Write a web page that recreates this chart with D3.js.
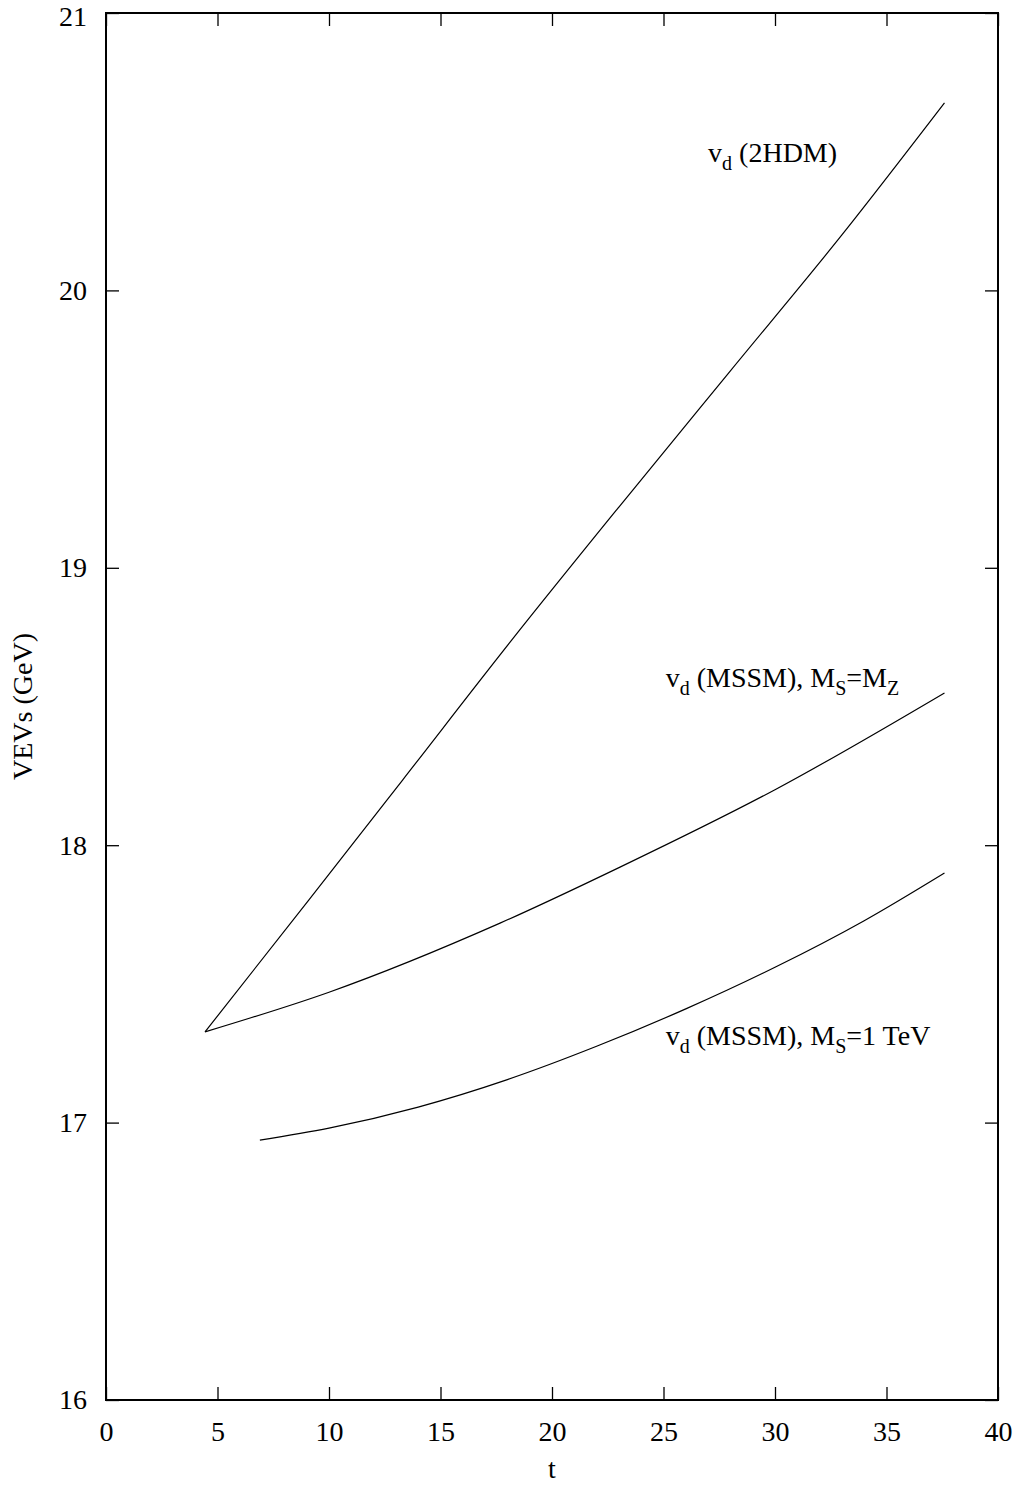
<!DOCTYPE html>
<html>
<head>
<meta charset="utf-8">
<script src="https://cdn.jsdelivr.net/npm/d3@7"></script>
<style>
  body { margin: 0; background: #fff; }
  text { font-family: "Liberation Serif", "DejaVu Serif", serif; fill: #000; }
</style>
</head>
<body>
<div class="chart"></div>
<script>
// data
const xTicks = [0, 5, 10, 15, 20, 25, 30, 35, 40]
const yTicks = [16, 17, 18, 19, 20, 21]

const t2hdm = [4.44, 9.1, 13.3, 18.2, 23.0, 28, 33, 37.6]
const v2hdm = [17.327, 17.803, 18.235, 18.74, 19.219, 19.71, 20.2, 20.676]

const tMz = [4.44, 10, 17.67, 23.05, 30, 37.6]
const vMz = [17.327, 17.47, 17.719, 17.921, 18.2, 18.549]

const tTev = [6.9, 10, 14, 18, 22, 26, 30, 34, 37.6]
const vTev = [16.937, 16.98, 17.056, 17.155, 17.275, 17.41, 17.56, 17.728, 17.9]

const labels = [
  {t: 27.0, v: 20.463, parts: [["v", 0], ["d", 1], [" (2HDM)", 0]]},
  {t: 25.1, v: 18.57, parts: [["v", 0], ["d", 1], [" (MSSM), M", 0], ["S", 1], ["=M", 0], ["Z", 1]]},
  {t: 25.1, v: 17.28, parts: [["v", 0], ["d", 1], [" (MSSM), M", 0], ["S", 1], ["=1 TeV", 0]]}
]

const W = 1018, H = 1489
const margin = {top: 13, right: 20, bottom: 89, left: 106}
const w = W - margin.left - margin.right
const h = H - margin.top - margin.bottom

const svg = d3.select(".chart").append("svg")
  .attr("width", W)
  .attr("height", H)

const g = svg.append("g").attr("transform", `translate(${margin.left},${margin.top})`)

const x = d3.scaleLinear().domain([0, 40]).range([0, w])
const y = d3.scaleLinear().domain([16, 21]).range([h, 0])

// ticks on all four sides, pointing inward
const tickLen = 13
g.append("g").attr("transform", `translate(0,${h})`)
  .call(d3.axisBottom(x).tickValues(xTicks).tickSizeInner(-tickLen).tickSizeOuter(0).tickPadding(21).tickFormat(d3.format("d")))
g.append("g").call(d3.axisTop(x).tickValues(xTicks).tickSizeInner(-tickLen).tickSizeOuter(0).tickFormat(""))
const yAx = g.append("g")
  .call(d3.axisLeft(y).tickValues(yTicks).tickSizeInner(-tickLen).tickSizeOuter(0).tickPadding(19).tickFormat(d3.format("d")))
g.append("g").attr("transform", `translate(${w},0)`)
  .call(d3.axisRight(y).tickValues(yTicks).tickSizeInner(-tickLen).tickSizeOuter(0).tickFormat(""))

g.selectAll(".domain").remove()
g.selectAll(".tick line").attr("stroke", "#000").attr("stroke-width", 1.3)
g.selectAll(".tick text")
  .style("font-family", '"Liberation Serif", serif')
  .style("font-size", "28px")
  .attr("fill", "#000")
// top label sits right at the page edge, push it down a touch
yAx.selectAll(".tick text").filter(d => d === 21).attr("y", 4)

g.append("rect")
  .attr("width", w).attr("height", h)
  .attr("fill", "none").attr("stroke", "#000").attr("stroke-width", 2)

const line = d3.line()
  .x(d => x(d[0]))
  .y(d => y(d[1]))
  .curve(d3.curveMonotoneX)

const series = [
  d3.zip(t2hdm, v2hdm),
  d3.zip(tMz, vMz),
  d3.zip(tTev, vTev)
]

g.selectAll(".curve").data(series).enter()
  .append("path")
  .attr("class", "curve")
  .attr("d", line)
  .attr("fill", "none")
  .attr("stroke", "#000")
  .attr("stroke-width", 1.2)

labels.forEach(lb => {
  const txt = g.append("text")
    .attr("x", x(lb.t))
    .attr("y", y(lb.v))
    .style("font-size", "28px")
  let sub = false
  lb.parts.forEach(p => {
    const ts = txt.append("tspan").text(p[0])
    if (p[1] && !sub) { ts.attr("dy", 8).style("font-size", "20px"); sub = true }
    else if (!p[1] && sub) { ts.attr("dy", -8); sub = false }
    else if (p[1]) ts.style("font-size", "20px")
  })
})

svg.append("text")
  .attr("x", margin.left + x(20))
  .attr("y", 1478)
  .attr("text-anchor", "middle")
  .style("font-size", "28px")
  .text("t")

svg.append("text")
  .attr("transform", `translate(32,${margin.top + h / 2}) rotate(-90)`)
  .attr("text-anchor", "middle")
  .style("font-size", "28px")
  .text("VEVs (GeV)")
</script>
</body>
</html>
